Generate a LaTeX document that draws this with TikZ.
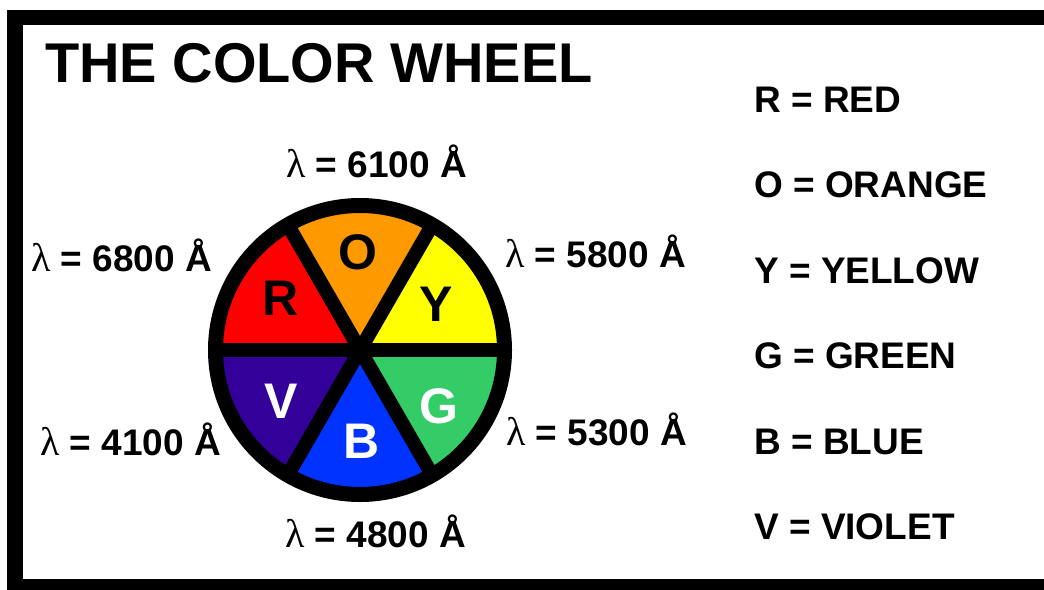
\documentclass[tikz,border=0pt]{standalone}
\usepackage{fontspec}
\setmainfont{Liberation Sans}
\newfontfamily\lamfont{Liberation Serif}
\definecolor{cwred}{RGB}{255,0,0}
\definecolor{cworange}{RGB}{255,153,0}
\definecolor{cwyellow}{RGB}{255,255,0}
\definecolor{cwgreen}{RGB}{51,204,102}
\definecolor{cwblue}{RGB}{0,51,255}
\definecolor{cwviolet}{RGB}{51,0,153}
\newcommand{\lam}{{\lamfont\mdseries\fontsize{40}{40}\selectfont λ}}
\begin{document}
\begin{tikzpicture}[x=1pt,y=-1pt,
  lbl/.style={anchor=base west,inner sep=0pt,font=\bfseries\fontsize{37}{40}\selectfont},
  ttl/.style={anchor=base west,inner sep=0pt,font=\bfseries\fontsize{56}{60}\selectfont},
  wl/.style={inner sep=0pt,font=\bfseries\fontsize{50}{52}\selectfont}]
\useasboundingbox (0,0) rectangle (1044,589);
\clip (0,0) rectangle (1044,589);
% frame
\fill[black] (7,10) rectangle (1060,600);
\fill[white] (23,25) rectangle (1060,579);
% title
\node[ttl] (title) at (45,82) {THE COLOR WHEEL};
% wheel
\begin{scope}[shift={(360,350)},yscale=-1]
  \fill[cwyellow] (0,0) -- (0:150) arc[start angle=0,end angle=60,radius=150] -- cycle;
  \fill[cworange] (0,0) -- (60:150) arc[start angle=60,end angle=120,radius=150] -- cycle;
  \fill[cwred] (0,0) -- (120:150) arc[start angle=120,end angle=180,radius=150] -- cycle;
  \fill[cwviolet] (0,0) -- (180:150) arc[start angle=180,end angle=240,radius=150] -- cycle;
  \fill[cwblue] (0,0) -- (240:150) arc[start angle=240,end angle=300,radius=150] -- cycle;
  \fill[cwgreen] (0,0) -- (300:150) arc[start angle=300,end angle=360,radius=150] -- cycle;
  \draw[line width=14pt] (0:146) -- (180:146);
  \draw[line width=14pt] (60:146) -- (240:146);
  \draw[line width=14pt] (120:146) -- (300:146);
  \draw[line width=15pt] (0,0) circle[radius=144.5];
\end{scope}
% wheel letters
\node[wl] (R) at (281,298) {R};
\node[wl] (O) at (358,252) {O};
\node[wl] (Y) at (436,304) {Y};
\node[wl,text=white] (V) at (281,401) {V};
\node[wl,text=white] (B) at (362,441) {B};
\node[wl,text=white] (G) at (439,406) {G};
% wavelength labels
\node[lbl] (l6100) at (286,177) {\lam\ = 6100 Å};
\node[lbl] (l6800) at (31,271) {\lam\ = 6800 Å};
\node[lbl] (l5800) at (505,267) {\lam\ = 5800 Å};
\node[lbl] (l4100) at (40,455) {\lam\ = 4100 Å};
\node[lbl] (l5300) at (506,445) {\lam\ = 5300 Å};
\node[lbl] (l4800) at (285,547) {\lam\ = 4800 Å};
% legend
\node[lbl] (kR) at (754,112) {R = RED};
\node[lbl] (kO) at (754,197) {O = ORANGE};
\node[lbl] (kY) at (754,283) {Y = YELLOW};
\node[lbl] (kG) at (754,368) {G = GREEN};
\node[lbl] (kB) at (754,454) {B = BLUE};
\node[lbl] (kV) at (754,539) {V = VIOLET};
\end{tikzpicture}
\end{document}
